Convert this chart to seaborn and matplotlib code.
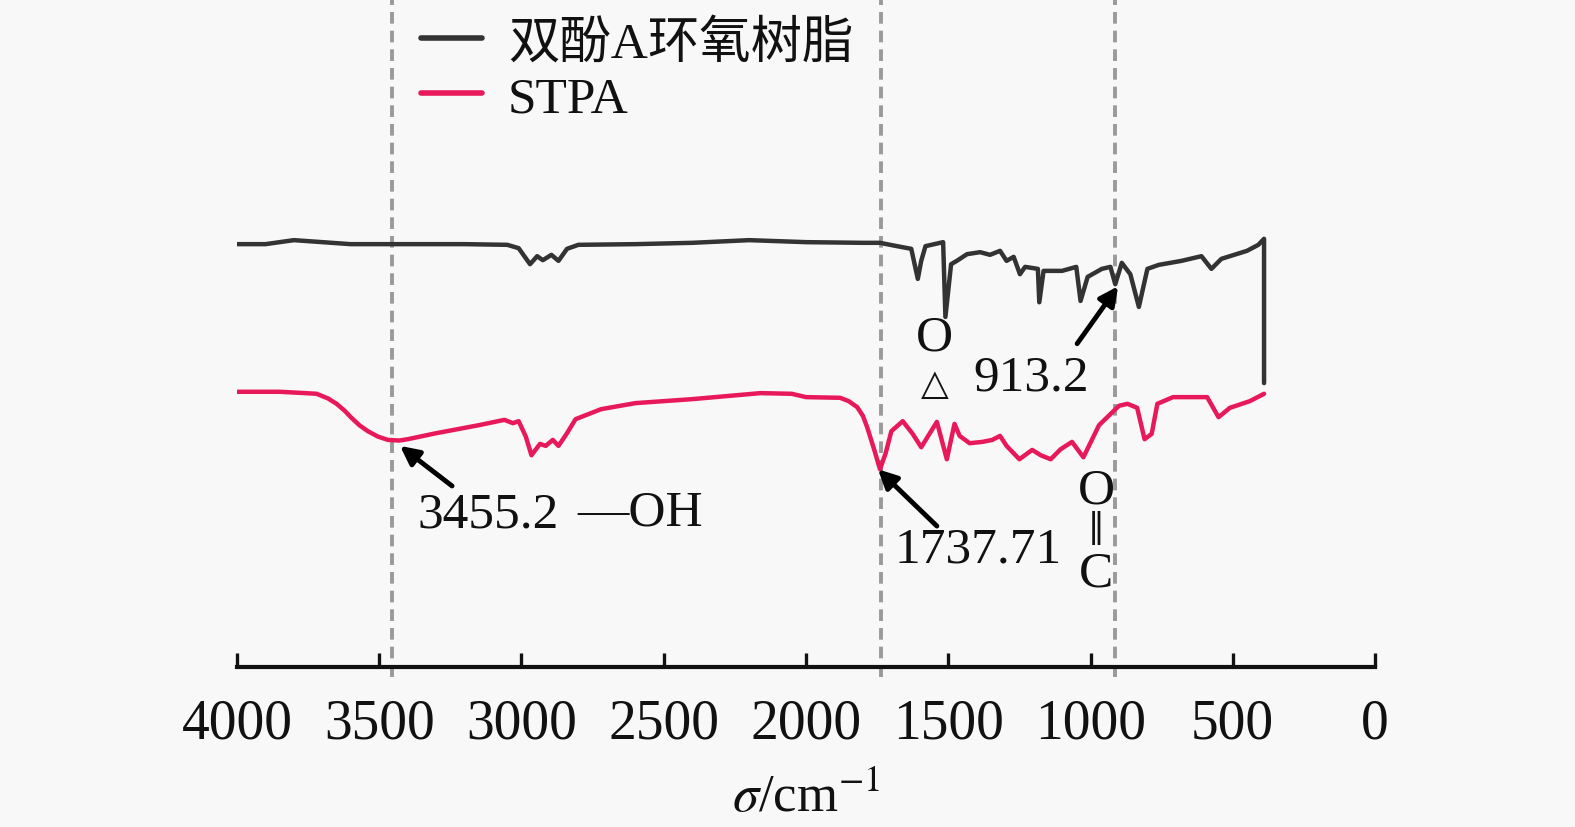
import matplotlib
matplotlib.use("Agg")
import matplotlib.pyplot as plt
import pandas as pd
import seaborn as sns

# FTIR spectra (wavenumber cm-1, transmittance a.u.)
epoxy_wn = [4000, 3900, 3800, 3700, 3600, 3455, 3200, 3050, 3010, 2970, 2945, 2925,
            2895, 2870, 2840, 2800, 2600, 2400, 2200, 2000, 1800, 1740, 1680, 1630,
            1607, 1595, 1580, 1518, 1510, 1490, 1470, 1434, 1388, 1353, 1318, 1295,
            1270, 1248, 1230, 1185, 1180, 1165, 1100, 1050, 1035, 1010, 960, 930,
            913, 890, 860, 830, 800, 760, 680, 610, 575, 540, 450, 410, 390, 390]
epoxy_t = [63.3, 63.3, 63.9, 63.6, 63.3, 63.3, 63.3, 63.2, 62.7, 60.3, 61.5, 60.9,
           61.7, 60.8, 62.6, 63.2, 63.3, 63.5, 63.9, 63.6, 63.5, 63.5, 63.0, 62.6,
           58.1, 60.8, 63.0, 63.6, 52.4, 60.3, 60.8, 61.8, 62.1, 61.7, 62.3, 60.8,
           61.4, 58.8, 59.9, 59.6, 54.6, 59.3, 59.3, 59.9, 54.8, 58.4, 59.6, 59.9,
           57.3, 60.5, 58.8, 53.9, 59.6, 60.2, 60.8, 61.5, 59.6, 61.1, 62.3, 63.2,
           64.1, 42.5]

stpa_wn = [4000, 3850, 3760, 3720, 3680, 3650, 3620, 3600, 3570, 3540, 3505, 3470,
           3430, 3400, 3300, 3150, 3060, 3030, 3010, 2985, 2965, 2935, 2915, 2890,
           2870, 2840, 2810, 2720, 2600, 2400, 2160, 2050, 2000, 1880, 1850, 1820,
           1800, 1785, 1760, 1740, 1720, 1700, 1660, 1625, 1595, 1540, 1505, 1478,
           1460, 1425, 1380, 1345, 1318, 1295, 1250, 1205, 1175, 1140, 1105, 1065,
           1025, 970, 900, 870, 836, 810, 785, 765, 710, 590, 550, 510, 440, 390]
stpa_t = [41.2, 41.2, 41.0, 40.9, 40.2, 39.4, 38.3, 37.4, 36.2, 35.3, 34.5, 34.0,
          33.9, 34.1, 35.0, 36.2, 37.0, 36.5, 36.8, 34.5, 31.7, 33.4, 33.1, 34.0,
          33.1, 35.0, 37.1, 38.6, 39.5, 40.1, 41.0, 40.9, 40.4, 40.3, 39.8, 38.9,
          37.6, 35.9, 32.5, 29.6, 32.0, 35.3, 36.8, 34.9, 32.9, 36.7, 31.1, 36.4,
          34.6, 33.5, 33.7, 34.0, 34.6, 33.1, 31.1, 32.5, 31.7, 31.1, 32.6, 33.7,
          31.4, 36.2, 39.1, 39.4, 38.8, 34.1, 34.9, 39.4, 40.4, 40.4, 37.4, 38.8,
          39.8, 40.9]

peak_lines = [3455.2, 1737.71, 913.2]
series_names = ["双酚A环氧树脂", "STPA"]
series_colors = ["#333333", "#e8195a"]

sns.set_theme(style="white")
plt.rcParams["font.family"] = ["Liberation Serif", "Noto Sans CJK SC", "DejaVu Sans"]
plt.rcParams["mathtext.fontset"] = "stix"

bg = "#f8f8f8"
fig = plt.figure(figsize=(15.75, 8.28), dpi=100, facecolor=bg)
ax = fig.add_axes([237 / 1575, 160 / 828, 1138 / 1575, 668 / 828])
ax.set_facecolor(bg)

epoxy = pd.DataFrame({"wn": epoxy_wn, "t": epoxy_t})
stpa = pd.DataFrame({"wn": stpa_wn, "t": stpa_t})

for x in peak_lines:
    ax.axvline(x, ymin=-0.015, ymax=1, color="#9a9a9a", lw=2.8,
               dashes=(3.0, 1.8), clip_on=False, zorder=1)

sns.lineplot(data=epoxy, x="wn", y="t", sort=False, estimator=None,
             color=series_colors[0], lw=3.2, ax=ax, label=series_names[0], zorder=3)
sns.lineplot(data=stpa, x="wn", y="t", sort=False, estimator=None,
             color=series_colors[1], lw=3.2, ax=ax, label=series_names[1], zorder=3)

ax.set_xlim(4000, 0)
ax.set_ylim(0, 100)
ax.set_xticks([4000, 3500, 3000, 2500, 2000, 1500, 1000, 500, 0])
ax.set_yticks([])
ax.set_ylabel("")
ax.set_xlabel(r"$\sigma$/cm$^{-1}$", fontsize=38, labelpad=16, color="#111111")

for side in ["left", "top", "right"]:
    ax.spines[side].set_visible(False)
ax.spines["bottom"].set_linewidth(3)
ax.spines["bottom"].set_color("#111111")
ax.tick_params(axis="x", bottom=True, direction="in", length=10, width=2.4,
               color="#111111", labelcolor="#111111", labelsize=40, pad=22)

leg = ax.legend(loc="upper left", bbox_to_anchor=(400 / 1575, 1.0),
                bbox_transform=fig.transFigure, frameon=False,
                fontsize=37, handlelength=1.2, handletextpad=0.5,
                labelspacing=0.15, borderaxespad=0.0)
for line in leg.get_lines():
    line.set_linewidth(4)
for t in leg.get_texts():
    t.set_color("#111111")

# peak annotations
arrow = dict(arrowstyle="-|>", lw=3.5, color="black", mutation_scale=28,
             shrinkA=0, shrinkB=0)
ax.annotate("", xy=(3427, 33.1), xytext=(3244, 27.1), arrowprops=arrow, zorder=5)
ax.annotate("", xy=(1747, 29.6), xytext=(1540, 21.1), arrowprops=arrow, zorder=5)
ax.annotate("", xy=(903, 57.0), xytext=(1047, 48.4), arrowprops=arrow, zorder=5)

txt = dict(fontsize=37, ha="center", va="center", color="#111111")
ax.text(3118, 22.9, "3455.2", **txt)
ax.text(2583, 23.2, "—OH", **txt)
ax.text(1395, 17.7, "1737.71", **txt)
ax.text(980, 26.5, "O", **txt)
ax.text(980, 20.9, "‖", fontsize=24, ha="center", va="center", color="#111111",
        family=["DejaVu Sans"])
ax.text(980, 14.0, "C", **txt)
ax.text(1209, 43.4, "913.2", **txt)
ax.text(1547, 49.4, "O", **txt)
ax.text(1547, 42.4, "△", fontsize=26, ha="center", va="center", color="#111111",
        family=["DejaVu Sans"])

fig.savefig("out.png", dpi=100, facecolor=bg)
plt.close(fig)
